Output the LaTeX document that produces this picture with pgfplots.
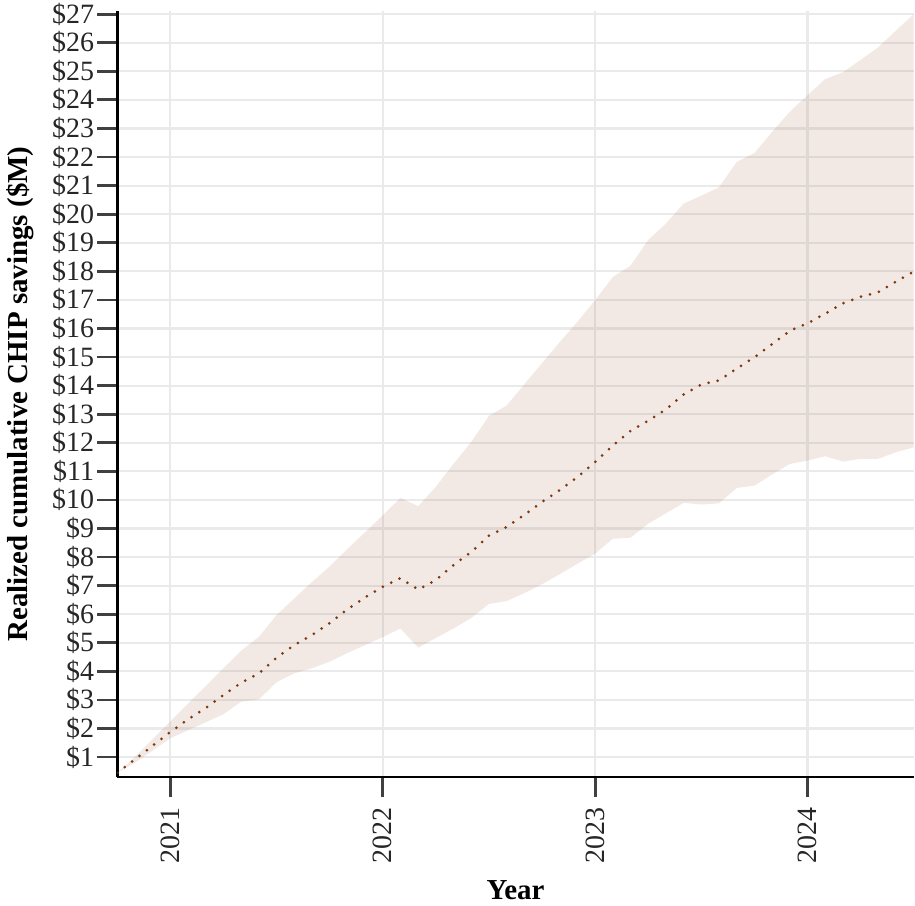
\documentclass[border=0pt]{standalone}
\usepackage{fontspec}
\setmainfont{Liberation Serif}
\usepackage{pgfplots}
\usepackage{pgfplotstable}
\pgfplotsset{compat=1.18}
\usepgfplotslibrary{fillbetween}
\definecolor{bandc}{RGB}{166,110,80}
\definecolor{linec}{RGB}{130,55,15}
\definecolor{gridc}{RGB}{234,234,234}
\pgfplotstableread{
x mean lo hi
2020.750 0.45 0.45 0.45
2020.833 0.92 0.80 1.01
2020.917 1.40 1.23 1.63
2021.000 1.88 1.66 2.25
2021.083 2.32 1.94 2.87
2021.167 2.72 2.22 3.49
2021.250 3.17 2.50 4.11
2021.333 3.60 2.94 4.72
2021.417 3.93 3.02 5.21
2021.500 4.48 3.62 5.97
2021.583 4.92 3.93 6.55
2021.667 5.27 4.11 7.13
2021.750 5.69 4.34 7.67
2021.833 6.17 4.64 8.28
2021.917 6.59 4.92 8.87
2022.000 6.96 5.20 9.46
2022.083 7.26 5.50 10.07
2022.167 6.86 4.83 9.78
2022.250 7.20 5.17 10.46
2022.333 7.72 5.50 11.26
2022.417 8.18 5.87 12.03
2022.500 8.75 6.36 12.94
2022.583 9.05 6.46 13.30
2022.667 9.48 6.74 14.05
2022.750 9.93 7.05 14.79
2022.833 10.34 7.40 15.52
2022.917 10.80 7.77 16.24
2023.000 11.33 8.12 16.99
2023.083 11.90 8.64 17.80
2023.167 12.42 8.68 18.20
2023.250 12.77 9.17 19.10
2023.333 13.17 9.53 19.67
2023.417 13.69 9.90 20.37
2023.500 14.04 9.84 20.65
2023.583 14.18 9.88 20.94
2023.667 14.60 10.42 21.83
2023.750 14.99 10.50 22.14
2023.833 15.45 10.89 22.88
2023.917 15.92 11.26 23.59
2024.000 16.18 11.38 24.16
2024.083 16.52 11.53 24.73
2024.167 16.88 11.34 24.97
2024.250 17.11 11.44 25.40
2024.333 17.27 11.44 25.84
2024.417 17.64 11.67 26.43
2024.500 17.99 11.84 27.00
}\datatable
\begin{document}
\begin{tikzpicture}
\begin{axis}[
  scale only axis,
  width=399pt, height=383.5pt,
  xmin=2020.75, xmax=2024.5,
  ymin=0.31, ymax=27.1,
  axis lines*=left,
  axis line style={-, line width=1.3pt, black},
  tick align=outside,
  major tick length=10pt,
  tick style={line width=1.4pt, black!75},
  xtick={2021,2022,2023,2024},
  xticklabels={2021,2022,2023,2024},
  ytick={1,2,...,27},
  yticklabel={\$\pgfmathprintnumber[assume math mode=true]{\tick}},
  ticklabel style={font=\fontsize{14}{16}\selectfont, black!85},
  yticklabel style={inner sep=1.5pt},
  xticklabel style={rotate=90, anchor=east, inner sep=5pt},
  grid=major,
  major grid style={gridc, line width=1.1pt},
  xlabel={\bfseries Year},
  ylabel={\bfseries Realized cumulative CHIP savings (\$M)},
  label style={font=\fontsize{14.5}{16}\selectfont},
  xlabel style={yshift=0pt},
  ylabel style={yshift=4pt},
  clip=true,
]
\addplot[name path=up, draw=none, forget plot] table[x=x, y=hi] {\datatable};
\addplot[name path=lo, draw=none, forget plot] table[x=x, y=lo] {\datatable};
\addplot[bandc, fill opacity=0.15, draw=none] fill between[of=up and lo];
\addplot[linec, line width=1.5pt, dash pattern=on 0pt off 4.65pt, line cap=round] table[x=x, y=mean] {\datatable};
\end{axis}
\end{tikzpicture}
\end{document}
